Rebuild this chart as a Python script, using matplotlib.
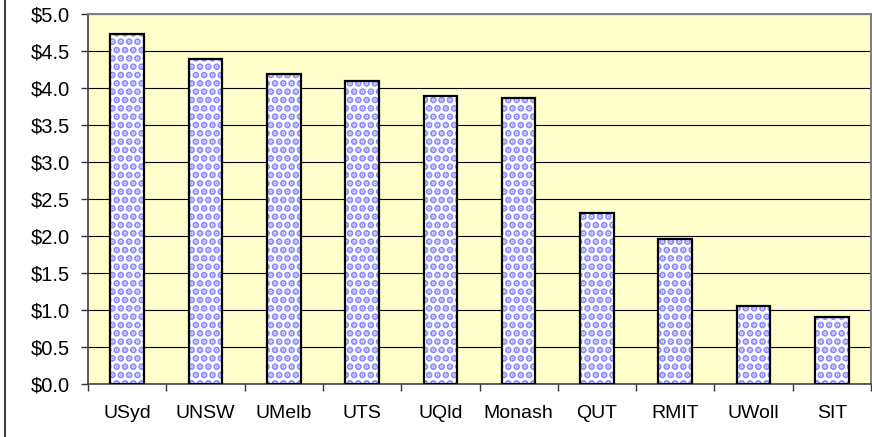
import numpy as np
import matplotlib.pyplot as plt
from matplotlib.lines import Line2D

plt.rcParams['font.family'] = ['Liberation Sans', 'DejaVu Sans']
plt.rcParams['hatch.linewidth'] = 3.5

universities = ['USyd', 'UNSW', 'UMelb', 'UTS', 'UQld', 'Monash', 'QUT', 'RMIT', 'UWoll', 'SIT']
values = [4.73, 4.39, 4.19, 4.09, 3.89, 3.87, 2.31, 1.96, 1.05, 0.90]
yticks = [0.0, 0.5, 1.0, 1.5, 2.0, 2.5, 3.0, 3.5, 4.0, 4.5, 5.0]

fig = plt.figure(figsize=(8.72, 4.37), dpi=100)
ax = fig.add_axes([88/872, 53/437, 783/872, 370/437])
ax.set_facecolor('#ffffcc')

x = np.arange(len(universities))
# dotted fill, then black outline on top
ax.bar(x, values, width=0.43, color='white', edgecolor='#8a8aff', linewidth=0, hatch='..', zorder=3)
ax.bar(x, values, width=0.43, fill=False, edgecolor='black', linewidth=1.6, zorder=4)

ax.set_xlim(-0.5, len(universities) - 0.5)
ax.set_ylim(0, 5)
ax.set_yticks(yticks)
ax.set_yticklabels(['$%.1f' % v for v in yticks], fontsize=14.5)
ax.set_xticks(x)
ax.set_xticklabels(universities, fontsize=14)
ax.tick_params(axis='x', length=0, pad=15)
ax.set_xticks(np.arange(-0.5, len(universities)), minor=True)
ax.tick_params(axis='x', which='minor', length=5, width=1, color='#333333')
ax.tick_params(axis='y', length=5, width=1, color='#333333', pad=8)

ax.yaxis.grid(True, color='black', linewidth=0.8, zorder=1)
ax.set_axisbelow(True)

for s in ['top', 'right']:
    ax.spines[s].set_color('#808080')
    ax.spines[s].set_linewidth(1.5)
for s in ['left', 'bottom']:
    ax.spines[s].set_color('#404040')
    ax.spines[s].set_linewidth(1.2)

# outer chart border on the left
fig.add_artist(Line2D([4.5/872, 4.5/872], [0, 1], transform=fig.transFigure, color='#404040', linewidth=1.5))

plt.savefig('out.png', dpi=100)
